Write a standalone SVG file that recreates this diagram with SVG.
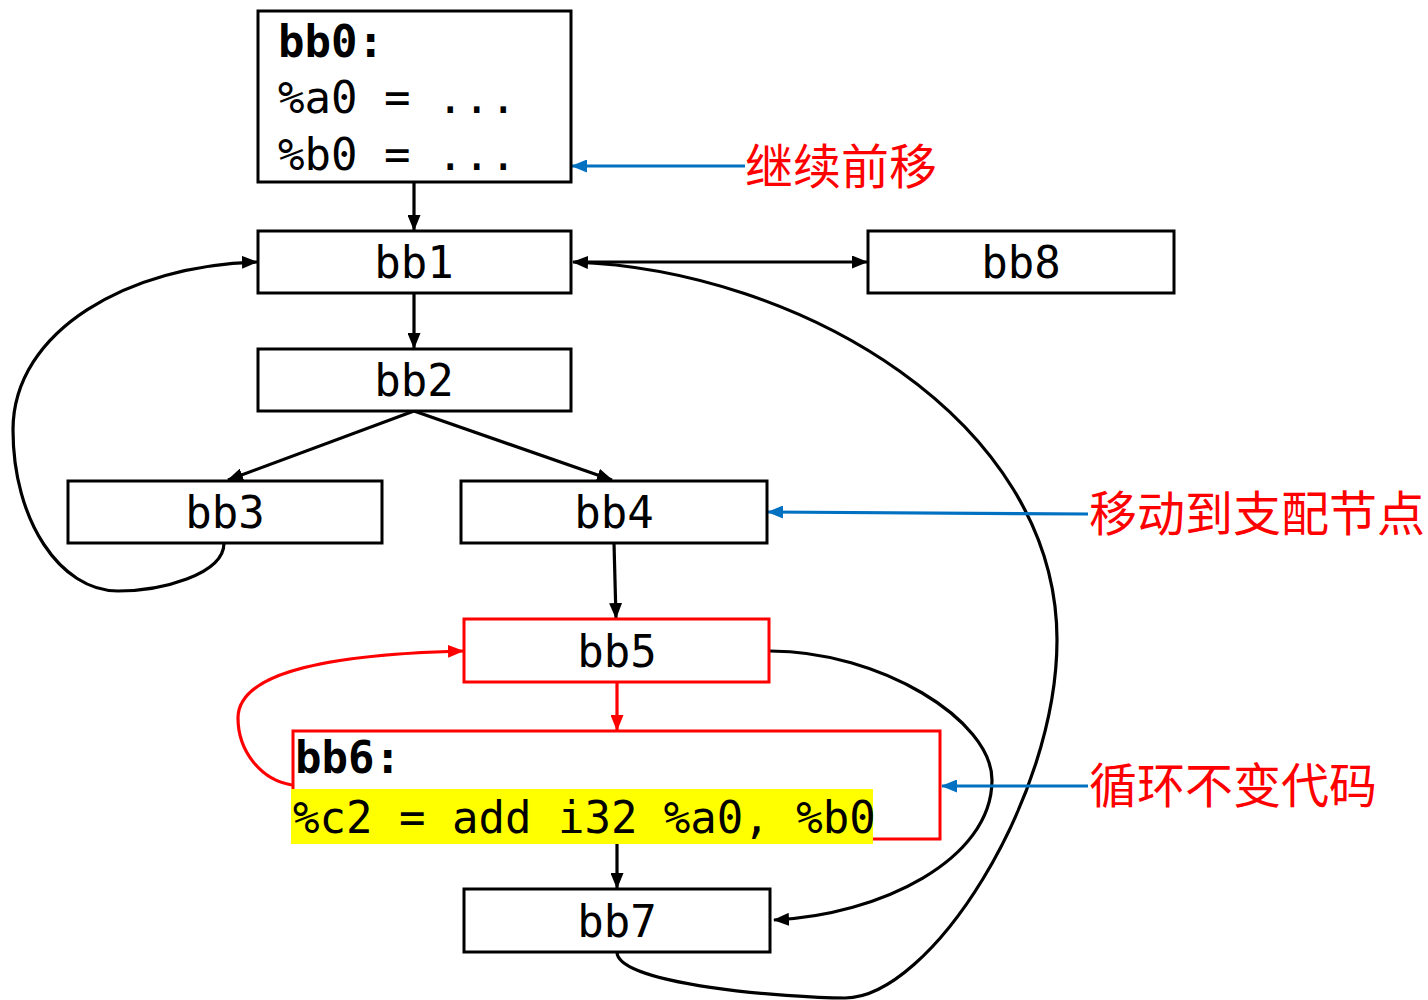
<svg xmlns="http://www.w3.org/2000/svg" width="1428" height="1000" viewBox="0 0 1428 1000">
  <style>
    .box { fill: #ffffff; stroke: #000000; stroke-width: 3; }
    .hot { fill: #ffffff; stroke: #ff0000; stroke-width: 3; }
    .code { font-family: "DejaVu Sans Mono", "Liberation Mono", monospace; font-size: 44px; fill: #000000; }
    .bold { font-weight: bold; }
    .mid { text-anchor: middle; }
    .note { font-family: "Noto Sans CJK SC", "Noto Sans CJK TC", sans-serif; font-size: 48px; fill: #ff0000; }
    .edge { fill: none; stroke: #000000; stroke-width: 3.2; }
    .edge-red { fill: none; stroke: #ff0000; stroke-width: 3.2; }
    .edge-blue { fill: none; stroke: #0070c0; stroke-width: 3.2; }
  </style>
  <defs>
    <marker id="arrow" viewBox="0 0 16 13" refX="15" refY="6.5" markerWidth="16" markerHeight="13" markerUnits="userSpaceOnUse" orient="auto">
      <path d="M0,0 L16,6.5 L0,13 Z" fill="#000000"/>
    </marker>
    <marker id="arrow-red" viewBox="0 0 16 13" refX="15" refY="6.5" markerWidth="16" markerHeight="13" markerUnits="userSpaceOnUse" orient="auto">
      <path d="M0,0 L16,6.5 L0,13 Z" fill="#ff0000"/>
    </marker>
    <marker id="arrow-blue" viewBox="0 0 16 13" refX="15" refY="6.5" markerWidth="16" markerHeight="13" markerUnits="userSpaceOnUse" orient="auto">
      <path d="M0,0 L16,6.5 L0,13 Z" fill="#0070c0"/>
    </marker>
  </defs>

  <rect width="1428" height="1000" fill="#ffffff"/>

  <!-- control-flow edges and annotation arrows -->
  <g id="connectors">
    <line class="edge" x1="414" y1="182" x2="414" y2="230" marker-end="url(#arrow)"/>
    <line class="edge" x1="414" y1="293" x2="414" y2="348" marker-end="url(#arrow)"/>
    <line class="edge" x1="414" y1="411" x2="228" y2="480" marker-end="url(#arrow)"/>
    <line class="edge" x1="414" y1="411" x2="612" y2="480" marker-end="url(#arrow)"/>
    <line class="edge" x1="614" y1="543" x2="616" y2="618" marker-end="url(#arrow)"/>
    <line class="edge" x1="617" y1="840" x2="617" y2="888" marker-end="url(#arrow)"/>
    <line class="edge" x1="575" y1="262" x2="867" y2="262" marker-end="url(#arrow)"/>
    <!-- bb3 back edge to bb1 -->
    <path class="edge" d="M224,543 C224,575 160,591 118,591 C60,591 13,520 13,430 C13,330 130,265 257,262" marker-end="url(#arrow)"/>
    <!-- bb7 back edge to bb1 -->
    <path class="edge" d="M617,952 C617,985 790,998 845,998 C930,998 1057,800 1057,640 C1057,420 800,270 573,262" marker-end="url(#arrow)"/>
    <!-- bb5 to bb7 -->
    <path class="edge" d="M770,651 C880,651 992,720 992,780 C992,860 880,915 774,920" marker-end="url(#arrow)"/>
    <!-- loop edges in red -->
    <line class="edge-red" x1="617" y1="682" x2="617" y2="730" marker-end="url(#arrow-red)"/>
    <path class="edge-red" d="M292,785 C260,780 238,750 238,718 C238,680 300,655 463,651" marker-end="url(#arrow-red)"/>
    <!-- annotation pointers -->
    <line class="edge-blue" x1="745" y1="166" x2="572" y2="166" marker-end="url(#arrow-blue)"/>
    <line class="edge-blue" x1="1088" y1="514" x2="768" y2="512" marker-end="url(#arrow-blue)"/>
    <line class="edge-blue" x1="1088" y1="786" x2="942" y2="786" marker-end="url(#arrow-blue)"/>
  </g>

  <g id="bb0">
    <rect class="box" x="258" y="11" width="313" height="171"/>
    <text class="code bold" x="278" y="57">bb0:</text>
    <text class="code" x="278" y="113">%a0 = ...</text>
    <text class="code" x="278" y="170">%b0 = ...</text>
  </g>
  <g id="bb1">
    <rect class="box" x="258" y="231" width="313" height="62"/>
    <text class="code mid" x="414" y="278">bb1</text>
  </g>
  <g id="bb8">
    <rect class="box" x="868" y="231" width="306" height="62"/>
    <text class="code mid" x="1021" y="278">bb8</text>
  </g>
  <g id="bb2">
    <rect class="box" x="258" y="349" width="313" height="62"/>
    <text class="code mid" x="414" y="396">bb2</text>
  </g>
  <g id="bb3">
    <rect class="box" x="68" y="481" width="314" height="62"/>
    <text class="code mid" x="225" y="528">bb3</text>
  </g>
  <g id="bb4">
    <rect class="box" x="461" y="481" width="306" height="62"/>
    <text class="code mid" x="614" y="528">bb4</text>
  </g>
  <g id="bb5">
    <rect class="hot" x="464" y="619" width="305" height="63"/>
    <text class="code mid" x="617" y="667">bb5</text>
  </g>
  <g id="bb6">
    <rect class="hot" x="293" y="731" width="647" height="108"/>
    <rect x="291" y="789" width="582" height="55" fill="#ffff00"/>
    <text class="code bold" x="295" y="773">bb6:</text>
    <text class="code" x="293" y="833">%c2 = add i32 %a0, %b0</text>
  </g>
  <g id="bb7">
    <rect class="box" x="464" y="889" width="306" height="63"/>
    <text class="code mid" x="617" y="937">bb7</text>
  </g>

  <g id="notes">
    <text class="note" x="745" y="184">继续前移</text>
    <text class="note" x="1089" y="531">移动到支配节点</text>
    <text class="note" x="1089" y="803">循环不变代码</text>
  </g>
</svg>
